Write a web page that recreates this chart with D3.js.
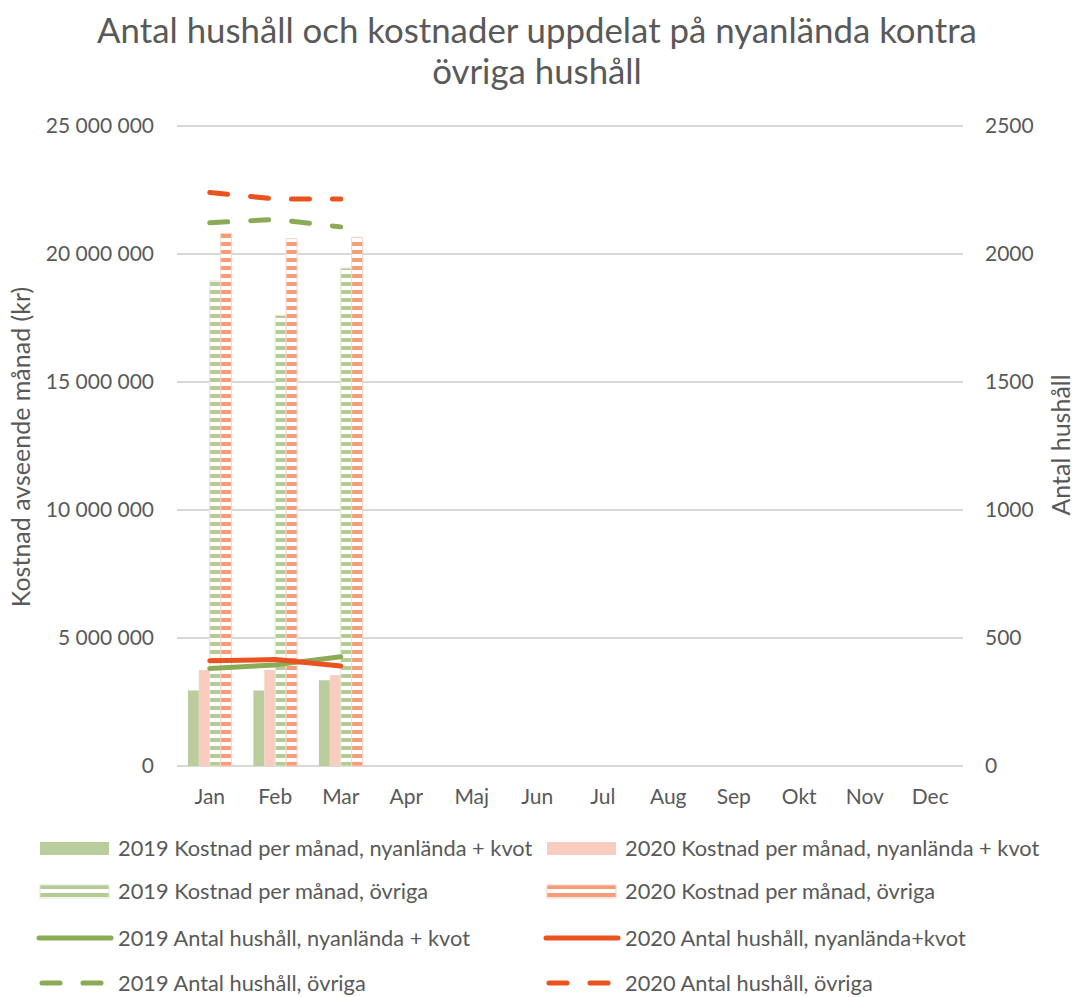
<!DOCTYPE html>
<html>
<head>
<meta charset="utf-8">
<script src="https://cdn.jsdelivr.net/npm/d3@7"></script>
<style>
  body { margin: 0; background: #fff; }
  text { font-family: Lato, "Open Sans", sans-serif; fill: #595959; }
</style>
</head>
<body>
<main></main>
<script>
const months = ['Jan', 'Feb', 'Mar', 'Apr', 'Maj', 'Jun', 'Jul', 'Aug', 'Sep', 'Okt', 'Nov', 'Dec'];
// kostnad (kr)
const cost2019Ny = [2950000, 2950000, 3350000, null, null, null, null, null, null, null, null, null];
const cost2020Ny = [3750000, 3750000, 3550000, null, null, null, null, null, null, null, null, null];
const cost2019Ov = [18950000, 17600000, 19450000, null, null, null, null, null, null, null, null, null];
const cost2020Ov = [20800000, 20600000, 20650000, null, null, null, null, null, null, null, null, null];
// antal hushåll
const hh2019Ny = [381, 395, 427, null, null, null, null, null, null, null, null, null];
const hh2020Ny = [411, 416, 391, null, null, null, null, null, null, null, null, null];
const hh2019Ov = [2122, 2135, 2106, null, null, null, null, null, null, null, null, null];
const hh2020Ov = [2240, 2215, 2215, null, null, null, null, null, null, null, null, null];
const leftTicks = [0, 5000000, 10000000, 15000000, 20000000, 25000000];
const rightTicks = [0, 500, 1000, 1500, 2000, 2500];

const width = 1075, height = 997;
const margin = {top: 126, right: 112, bottom: 231, left: 177};

const svg = d3.select('main').append('svg')
  .attr('width', width)
  .attr('height', height);

// stripe patterns for the "övriga" bars
const defs = svg.append('defs');
const makeStripes = (id, col) => {
  const p = defs.append('pattern')
    .attr('id', id)
    .attr('patternUnits', 'userSpaceOnUse')
    .attr('width', 8).attr('height', 8);
  p.append('rect').attr('width', 8).attr('height', 8).attr('fill', '#fff');
  p.append('rect').attr('y', 2).attr('width', 8).attr('height', 4).attr('fill', col);
};
makeStripes('stripeGreen', '#b5cb95');
makeStripes('stripeOrange', '#f79c78');

const x = d3.scaleBand()
  .domain(months)
  .range([margin.left, width - margin.right]);

const bars = d3.scaleBand()
  .domain(['a', 'b', 'c', 'd'])
  .range([0, x.bandwidth()])
  .paddingOuter(1.0);

const yL = d3.scaleLinear().domain([0, 25000000]).range([height - margin.bottom, margin.top]);
const yR = d3.scaleLinear().domain([0, 2500]).range([height - margin.bottom, margin.top]);

// gridlines
svg.append('g')
  .selectAll('line')
  .data(leftTicks)
  .enter()
  .append('line')
  .attr('x1', margin.left)
  .attr('x2', width - margin.right)
  .attr('y1', d => yL(d))
  .attr('y2', d => yL(d))
  .style('stroke', '#d9d9d9')
  .style('stroke-width', 2);

// axes
const fmt = d => d3.format(',')(d).replace(/,/g, ' ');
const leftAxis = svg.append('g')
  .attr('transform', `translate(${margin.left - 23},0)`)
  .call(d3.axisLeft(yL).tickValues(leftTicks).tickFormat(fmt).tickSize(0).tickPadding(0));
const rightAxis = svg.append('g')
  .attr('transform', `translate(${width - margin.right + 22},0)`)
  .call(d3.axisRight(yR).tickValues(rightTicks).tickFormat(d => d).tickSize(0).tickPadding(0));
const xAxis = svg.append('g')
  .attr('transform', `translate(0,${height - margin.bottom + 31})`)
  .call(d3.axisBottom(x).tickSize(0).tickPadding(0));
[leftAxis, rightAxis, xAxis].forEach(a => {
  a.select('.domain').remove();
  a.selectAll('text').style('font-size', '21px').style('fill', '#595959').style('font-family', 'Lato, sans-serif');
});
xAxis.selectAll('text').attr('dy', '0.35em');

// bars
const barSeries = [
  {key: 'a', values: cost2019Ny, fill: '#bbcd9d', stroke: 'none'},
  {key: 'b', values: cost2020Ny, fill: '#f8cdbf', stroke: 'none'},
  {key: 'c', values: cost2019Ov, fill: 'url(#stripeGreen)', stroke: '#dfe8d1'},
  {key: 'd', values: cost2020Ov, fill: 'url(#stripeOrange)', stroke: '#fbd3c3'}
];
barSeries.forEach(s => {
  svg.append('g')
    .selectAll('rect')
    .data(months.map((m, i) => ({m, v: s.values[i]})).filter(d => d.v != null))
    .enter()
    .append('rect')
    .attr('x', d => x(d.m) + bars(s.key))
    .attr('width', bars.bandwidth())
    .attr('y', d => yL(d.v))
    .attr('height', d => yL(0) - yL(d.v))
    .style('fill', s.fill)
    .style('stroke', s.stroke)
    .style('stroke-width', 1);
});

// lines
const lineSeries = [
  {values: hh2019Ny, color: '#8cab57', dash: null},
  {values: hh2020Ny, color: '#ea531f', dash: null},
  {values: hh2019Ov, color: '#8cab57', dash: '18 23'},
  {values: hh2020Ov, color: '#ea531f', dash: '18 23'}
];
const line = d3.line()
  .defined(d => d.v != null)
  .x(d => x(d.m) + x.bandwidth() / 2)
  .y(d => yR(d.v));
lineSeries.forEach(s => {
  svg.append('path')
    .datum(months.map((m, i) => ({m, v: s.values[i]})))
    .attr('d', line)
    .style('fill', 'none')
    .style('stroke', s.color)
    .style('stroke-width', 5)
    .style('stroke-linecap', 'round')
    .style('stroke-linejoin', 'round')
    .style('stroke-dasharray', s.dash);
});

// title
svg.append('text')
  .attr('x', 537).attr('y', 43)
  .attr('text-anchor', 'middle')
  .style('font-size', '34.8px')
  .text('Antal hushåll och kostnader uppdelat på nyanlända kontra');
svg.append('text')
  .attr('x', 537).attr('y', 84)
  .attr('text-anchor', 'middle')
  .style('font-size', '34.8px')
  .text('övriga hushåll');

// axis titles
svg.append('text')
  .attr('transform', 'translate(30,447) rotate(-90)')
  .attr('text-anchor', 'middle')
  .style('font-size', '25px')
  .text('Kostnad avseende månad (kr)');
svg.append('text')
  .attr('transform', 'translate(1070,445) rotate(-90)')
  .attr('text-anchor', 'middle')
  .style('font-size', '25px')
  .text('Antal hushåll');

// legend
const legendItems = [
  {label: '2019 Kostnad per månad, nyanlända + kvot', type: 'bar', fill: '#bbcd9d'},
  {label: '2020 Kostnad per månad, nyanlända + kvot', type: 'bar', fill: '#f8cdbf'},
  {label: '2019 Kostnad per månad, övriga', type: 'stripe', fill: 'url(#stripeGreen)', stroke: '#dfe8d1'},
  {label: '2020 Kostnad per månad, övriga', type: 'stripe', fill: 'url(#stripeOrange)', stroke: '#fbd3c3'},
  {label: '2019 Antal hushåll, nyanlända + kvot', type: 'line', color: '#8cab57'},
  {label: '2020 Antal hushåll, nyanlända+kvot', type: 'line', color: '#ea531f'},
  {label: '2019 Antal hushåll, övriga', type: 'dash', color: '#8cab57'},
  {label: '2020 Antal hushåll, övriga', type: 'dash', color: '#ea531f'}
];
const rowY = [848, 891, 938, 983];
const colX = [40, 547];
const legend = svg.append('g')
  .selectAll('g')
  .data(legendItems)
  .enter()
  .append('g')
  .attr('transform', (d, i) => `translate(${colX[i % 2]},${rowY[Math.floor(i / 2)]})`);
legend.filter(d => d.type === 'bar' || d.type === 'stripe')
  .append('rect')
  .attr('x', 0).attr('y', -6)
  .attr('width', 69).attr('height', 13)
  .style('fill', d => d.fill)
  .style('stroke', d => d.stroke || 'none');
legend.filter(d => d.type === 'line' || d.type === 'dash')
  .append('line')
  .attr('x1', d => d.type === 'dash' ? 2 : -1)
  .attr('x2', 71)
  .attr('y1', 0).attr('y2', 0)
  .style('stroke', d => d.color)
  .style('stroke-width', 5)
  .style('stroke-linecap', 'round')
  .style('stroke-dasharray', d => d.type === 'dash' ? '18 23' : null);
legend.append('text')
  .attr('x', 78)
  .attr('dy', '0.35em')
  .style('font-size', '21.8px')
  .text(d => d.label);
</script>
</body>
</html>
